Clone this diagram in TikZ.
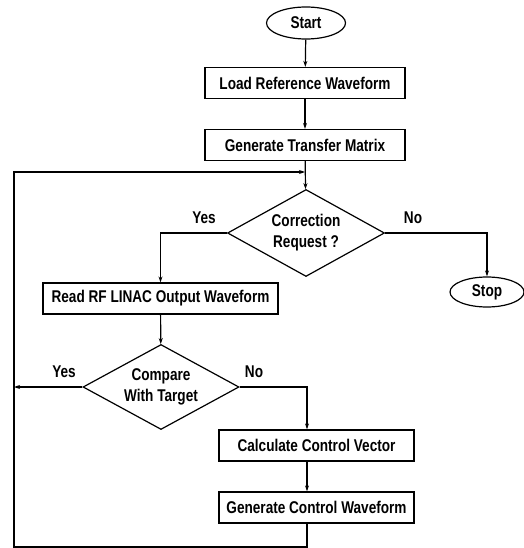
\documentclass[tikz,border=0pt]{standalone}
\usepackage{fontspec}
\setmainfont{Liberation Sans}[FakeStretch=0.8]
\usetikzlibrary{shapes.geometric,arrows.meta}

\begin{document}
\begin{tikzpicture}[x=1pt, y=-1pt, line width=1.2pt,
        every node/.style = {font=\bfseries\fontsize{17}{21}\selectfont},
        proc/.style = {draw, rectangle, minimum height=31pt, inner sep=0pt},
        term/.style = {draw, ellipse, minimum width=79pt, minimum height=32pt, inner sep=0pt},
        dec/.style = {draw, diamond, aspect=1.8, minimum width=157pt, minimum height=87pt, inner sep=0pt, align=center},
        arr/.style = {-{Stealth[length=6pt, width=4pt]}}]
    \useasboundingbox (0,0) rectangle (523,548);
    \node [term] (start) at (306,23) {Start};
    \node [proc, minimum width=200pt] (load) at (305,83) {Load Reference Waveform};
    \node [proc, minimum width=200pt] (gtm) at (305,145) {Generate Transfer Matrix};
    \node [dec] (corr) at (306,233) {Correction\\Request ?};
    \node [proc, minimum width=235pt] (read) at (160.5,298.5) {Read RF LINAC Output Waveform};
    \node [term, minimum width=74pt, minimum height=30pt] (stop) at (487,292) {Stop};
    \node [dec, minimum width=156pt, minimum height=85pt] (cmp) at (161,387) {Compare\\With Target};
    \node [proc, minimum width=195pt] (calc) at (316.5,445.5) {Calculate Control Vector};
    \node [proc, minimum width=195pt] (gcw) at (316.5,507.5) {Generate Control Waveform};

    \node (yes1) at (204,218) {Yes};
    \node (no1) at (413,218) {No};
    \node (yes2) at (64,372) {Yes};
    \node (no2) at (254,372) {No};

    \coordinate (lbot) at (14,547);
    \coordinate (ltop) at (14,172);
    \coordinate (lend) at (305,172);

    \draw [arr] (start) -- (load);
    \draw [arr] (load) -- (gtm);
    \draw [arr] (gtm) -- (corr);
    \draw [arr] (corr.west) -| (read.north);
    \draw [arr] (corr.east) -| (stop.north);
    \draw [arr] (read) -- (cmp);
    \draw [arr] (cmp.east) -| ([xshift=-9.5pt]calc.north);
    \draw [arr] ([xshift=-9.5pt]calc.south) -- ([xshift=-9.5pt]gcw.north);
    \draw [arr] (cmp.west) -- (cmp.west -| ltop);
    \draw [arr] ([xshift=-9.5pt]gcw.south) |- (lbot) -- (ltop) -- (lend); % back to the decision
\end{tikzpicture}
\end{document}
